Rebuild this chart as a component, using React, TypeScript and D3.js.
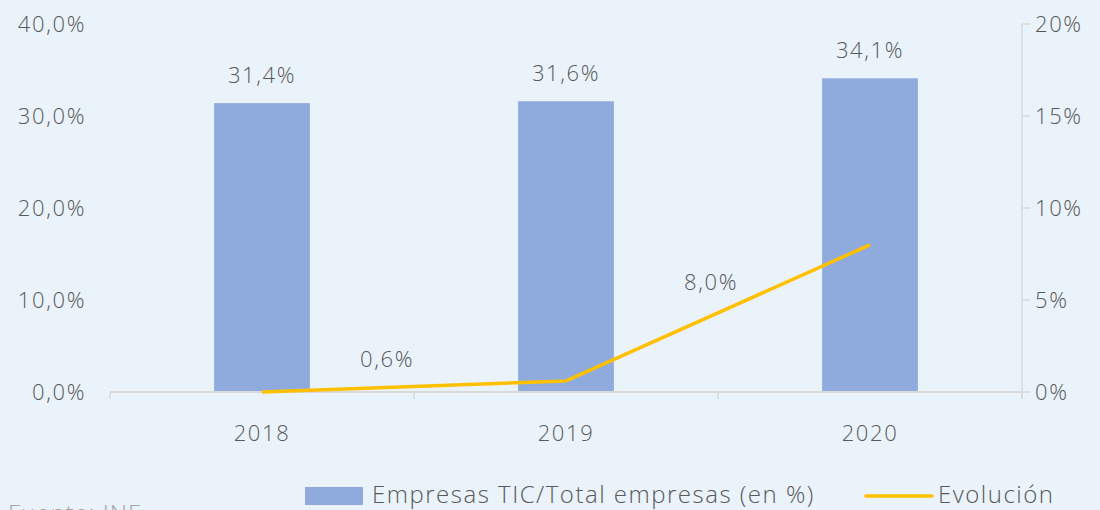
import React from "react";
import * as d3 from "d3";

const categories = ["2018", "2019", "2020"];
const ticShare = [31.4, 31.6, 34.1];
const evolution = [0, 0.6, 8.0];
const evolutionLabels = ["", "0,6%", "8,0%"];
const leftTicks = [0, 10, 20, 30, 40];
const rightTicks = [0, 5, 10, 15, 20];

const W = 1100, H = 510;
const M = { left: 110, right: 1022, top: 24, bottom: 392 };
const FONT = "'Open Sans', 'Noto Sans', sans-serif";
const TXT = "#595959";
const FS = 22;
const LS = 1.6;
const labelOffsets: [number, number][] = [[0, 0], [-179, -14], [-159, 45]];

export default function App() {
  const x = d3.scaleBand<string>().domain(categories).range([M.left, M.right]).paddingInner(0).paddingOuter(0);
  const yL = d3.scaleLinear().domain([0, 40]).range([M.bottom, M.top]);
  const yR = d3.scaleLinear().domain([0, 20]).range([M.bottom, M.top]);
  const bw = x.bandwidth() * 0.315;
  const cx = (c: string) => (x(c) as number) + x.bandwidth() / 2;
  const line = d3.line<number>().x((_, i) => cx(categories[i])).y((d) => yR(d));
  const fmt1 = (v: number) => v.toFixed(1).replace(".", ",") + "%";
  const boundaries = [...categories.map((c) => x(c) as number), M.right];
  const t = { fontSize: FS, fontWeight: 300, fill: TXT, letterSpacing: LS } as any;

  return (
    <div style={{ position: "fixed", left: 0, top: 0 }}>
      <svg width={W} height={H} style={{ display: "block", fontFamily: FONT }}>
        <rect width={W} height={H} fill="#EAF2FA" />
        {leftTicks.map((v) => (
          <text key={v} x={86} y={yL(v)} dy="0.35em" textAnchor="end" {...t}>
            {fmt1(v)}
          </text>
        ))}
        <line x1={M.right} x2={M.right} y1={M.top} y2={M.bottom + 7} stroke="#D9D9D9" strokeWidth={1.5} />
        {rightTicks.map((v) => (
          <g key={v}>
            <line x1={M.right} x2={M.right + 8} y1={yR(v)} y2={yR(v)} stroke="#D9D9D9" strokeWidth={1.5} />
            <text x={1035} y={yR(v)} dy="0.35em" textAnchor="start" {...t}>
              {v + "%"}
            </text>
          </g>
        ))}
        {categories.map((c, i) => (
          <g key={c}>
            <rect x={cx(c) - bw / 2} y={yL(ticShare[i])} width={bw} height={M.bottom - yL(ticShare[i])} fill="#8FAADC" />
            <text x={cx(c)} y={yL(ticShare[i]) - 20} textAnchor="middle" {...t}>
              {fmt1(ticShare[i])}
            </text>
          </g>
        ))}
        <line x1={M.left} x2={M.right} y1={M.bottom} y2={M.bottom} stroke="#D9D9D9" strokeWidth={2} />
        {boundaries.map((b, i) => (
          <line key={i} x1={b} x2={b} y1={M.bottom} y2={M.bottom + 7} stroke="#D9D9D9" strokeWidth={1.5} />
        ))}
        {categories.map((c) => (
          <text key={c} x={cx(c)} y={433} dy="0.35em" textAnchor="middle" {...t}>
            {c}
          </text>
        ))}
        <path d={line(evolution) || ""} fill="none" stroke="#FFC000" strokeWidth={3.5} strokeLinejoin="round" />
        {evolution.map((v, i) =>
          evolutionLabels[i] ? (
            <text key={i} x={cx(categories[i]) + labelOffsets[i][0]} y={yR(v) + labelOffsets[i][1]} textAnchor="middle" {...t}>
              {evolutionLabels[i]}
            </text>
          ) : null
        )}
        <rect x={305} y={487} width={58} height={18} fill="#8FAADC" />
        <text x={372} y={495} dy="0.35em" fontSize={24} fontWeight={300} fill={TXT} letterSpacing={1.5}>
          Empresas TIC/Total empresas (en %)
        </text>
        <line x1={866} x2={932} y1={496} y2={496} stroke="#FFC000" strokeWidth={3.5} strokeLinecap="round" />
        <text x={938} y={495} dy="0.35em" fontSize={24} fontWeight={300} fill={TXT} letterSpacing={1.5}>
          Evolución
        </text>
        <text x={8} y={522} fontSize={24} fontWeight={300} fill="#A6A6A6" letterSpacing={1}>
          Fuente: INE
        </text>
      </svg>
    </div>
  );
}
